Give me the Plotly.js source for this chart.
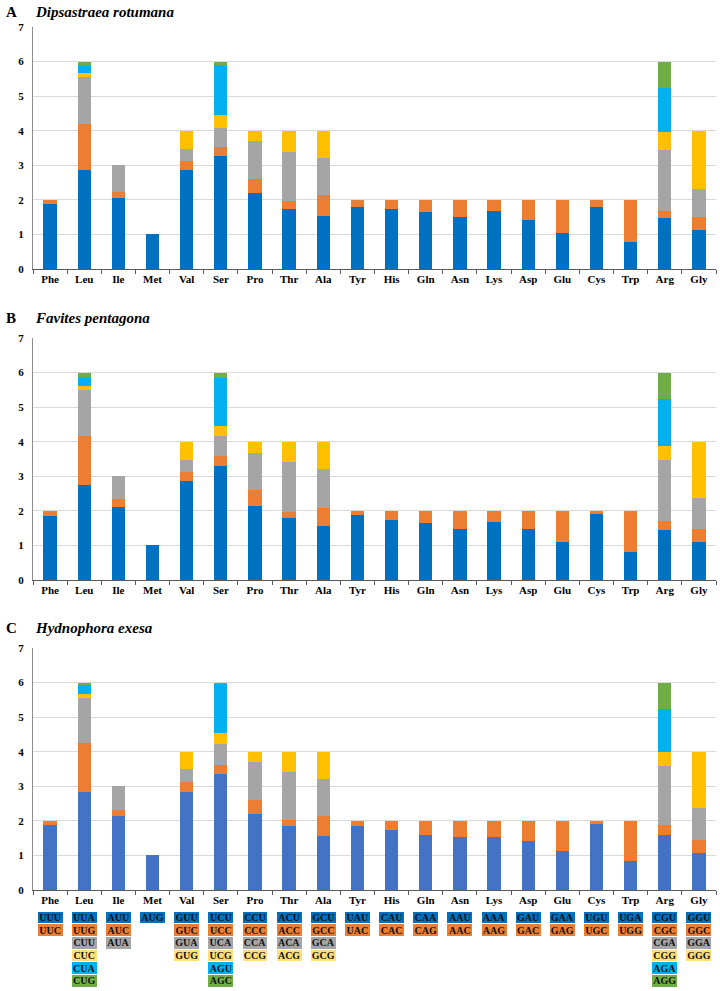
<!DOCTYPE html>
<html>
<head>
<meta charset="utf-8">
<script src="https://cdn.plot.ly/plotly-3.0.1.min.js"></script>
<style>
  html, body { margin: 0; padding: 0; background: #fff; }
  #chart { width: 720px; height: 991px; }
</style>
</head>
<body>
<div id="chart"></div>
<script>
const aminoAcids = ["Phe", "Leu", "Ile", "Met", "Val", "Ser", "Pro", "Thr", "Ala", "Tyr",
                    "His", "Gln", "Asn", "Lys", "Asp", "Glu", "Cys", "Trp", "Arg", "Gly"];

// codons for each synonymous position (1st..6th box under each amino acid)
const codons1 = ["UUU","UUA","AUU","AUG","GUU","UCU","CCU","ACU","GCU","UAU","CAU","CAA","AAU","AAA","GAU","GAA","UGU","UGA","CGU","GGU"];
const codons2 = ["UUC","UUG","AUC","","GUC","UCC","CCC","ACC","GCC","UAC","CAC","CAG","AAC","AAG","GAC","GAG","UGC","UGG","CGC","GGC"];
const codons3 = ["","CUU","AUA","","GUA","UCA","CCA","ACA","GCA","","","","","","","","","","CGA","GGA"];
const codons4 = ["","CUC","","","GUG","UCG","CCG","ACG","GCG","","","","","","","","","","CGG","GGG"];
const codons5 = ["","CUA","","","","AGU","","","","","","","","","","","","","AGA",""];
const codons6 = ["","CUG","","","","AGC","","","","","","","","","","","","","AGG",""];

// RSCU values, one array per codon position
const rotumana = [
  [1.88, 2.87, 2.05, 1, 2.87, 3.28, 2.19, 1.73, 1.54, 1.79, 1.73, 1.66, 1.49, 1.67, 1.43, 1.05, 1.80, 0.77, 1.47, 1.14],
  [0.12, 1.33, 0.19, null, 0.24, 0.24, 0.42, 0.24, 0.59, 0.21, 0.27, 0.34, 0.51, 0.33, 0.57, 0.95, 0.20, 1.23, 0.20, 0.35],
  [null, 1.36, 0.76, null, 0.37, 0.57, 1.10, 1.42, 1.09, null, null, null, null, null, null, null, null, null, 1.76, 0.81],
  [null, 0.12, null, null, 0.52, 0.37, 0.29, 0.61, 0.78, null, null, null, null, null, null, null, null, null, 0.54, 1.70],
  [null, 0.23, null, null, null, 1.43, null, null, null, null, null, null, null, null, null, null, null, null, 1.28, null],
  [null, 0.09, null, null, null, 0.11, null, null, null, null, null, null, null, null, null, null, null, null, 0.75, null]
];
const pentagona = [
  [1.86, 2.74, 2.11, 1, 2.85, 3.30, 2.14, 1.80, 1.55, 1.88, 1.74, 1.64, 1.47, 1.69, 1.47, 1.09, 1.90, 0.82, 1.44, 1.09],
  [0.14, 1.42, 0.24, null, 0.28, 0.28, 0.46, 0.17, 0.54, 0.12, 0.26, 0.36, 0.53, 0.31, 0.53, 0.91, 0.10, 1.18, 0.28, 0.39],
  [null, 1.34, 0.65, null, 0.33, 0.58, 1.08, 1.45, 1.12, null, null, null, null, null, null, null, null, null, 1.74, 0.88],
  [null, 0.10, null, null, 0.54, 0.30, 0.32, 0.58, 0.79, null, null, null, null, null, null, null, null, null, 0.42, 1.64],
  [null, 0.28, null, null, null, 1.38, null, null, null, null, null, null, null, null, null, null, null, null, 1.36, null],
  [null, 0.12, null, null, null, 0.16, null, null, null, null, null, null, null, null, null, null, null, null, 0.76, null]
];
const exesa = [
  [1.88, 2.84, 2.14, 1, 2.84, 3.36, 2.20, 1.85, 1.55, 1.86, 1.74, 1.60, 1.52, 1.52, 1.43, 1.13, 1.92, 0.83, 1.60, 1.06],
  [0.12, 1.40, 0.17, null, 0.28, 0.27, 0.41, 0.18, 0.59, 0.14, 0.26, 0.40, 0.48, 0.48, 0.57, 0.87, 0.08, 1.17, 0.28, 0.40],
  [null, 1.30, 0.69, null, 0.37, 0.58, 1.08, 1.39, 1.07, null, null, null, null, null, null, null, null, null, 1.72, 0.90],
  [null, 0.12, null, null, 0.51, 0.33, 0.31, 0.58, 0.79, null, null, null, null, null, null, null, null, null, 0.40, 1.64],
  [null, 0.28, null, null, null, 1.41, null, null, null, null, null, null, null, null, null, null, null, null, 1.25, null],
  [null, 0.06, null, null, null, 0.05, null, null, null, null, null, null, null, null, null, null, null, null, 0.75, null]
];

const codonRows = [codons1, codons2, codons3, codons4, codons5, codons6];
const colorsAB = ["#0070C0", "#ED7D31", "#A5A5A5", "#FFC000", "#00B0F0", "#70AD47"];
const colorsC  = ["#4472C4", "#ED7D31", "#A5A5A5", "#FFC000", "#00B0F0", "#70AD47"];
const boxColors = ["#0070C0", "#ED7D31", "#A5A5A5", "#FFE07A", "#00B0F0", "#70AD47"];

const serif = "Liberation Serif, Times New Roman, serif";
const data = [];

function addPanel(values, colors, xa, ya) {
  values.forEach((row, i) => {
    data.push({
      type: "bar", x: aminoAcids, y: row, xaxis: xa, yaxis: ya,
      width: 0.39, marker: { color: colors[i] },
      showlegend: false, hoverinfo: "skip"
    });
  });
}
addPanel(rotumana, colorsAB, "x", "y");
addPanel(pentagona, colorsAB, "x2", "y2");
addPanel(exesa, colorsC, "x3", "y3");

// codon boxes under panel C, one unit per codon
codonRows.forEach((row, i) => {
  data.push({
    type: "bar", x: aminoAcids, y: row.map(c => c ? 1 : null), text: row,
    xaxis: "x4", yaxis: "y4", width: 0.76,
    marker: { color: boxColors[i], line: { color: "#fff", width: 1 } },
    textposition: "inside", insidetextanchor: "middle", textangle: 0,
    textfont: { family: serif, size: 10, weight: "bold", color: "#111" },
    showlegend: false, hoverinfo: "skip"
  });
});

const H = 991;
const dom = (top, bottom) => [1 - bottom / H, 1 - top / H];
const tickFont = { family: serif, size: 11, weight: "bold", color: "#000" };

function xAxis(anchor) {
  return {
    domain: [0, 1], anchor: anchor, type: "category",
    showline: true, linecolor: "#595959", linewidth: 1,
    ticks: "outside", tickson: "boundaries", ticklen: 4, tickcolor: "#595959",
    showgrid: false, tickfont: tickFont, fixedrange: true
  };
}
function yAxis(anchor, d) {
  return {
    domain: d, anchor: anchor, range: [0, 7], dtick: 1,
    showline: true, linecolor: "#8c8c8c", linewidth: 1,
    gridcolor: "#d9d9d9", zeroline: false, ticks: "",
    tickfont: tickFont, ticklabelstandoff: 6, fixedrange: true
  };
}

function panelTitle(letter, name, yPx) {
  return [
    { text: "<b>" + letter + "</b>", xref: "paper", yref: "paper", x: -0.043, y: 1 - yPx / H,
      xanchor: "left", yanchor: "middle", showarrow: false,
      font: { family: serif, size: 15, color: "#000" } },
    { text: "<b><i>" + name + "</i></b>", xref: "paper", yref: "paper", x: 0, y: 1 - yPx / H,
      xanchor: "left", yanchor: "middle", showarrow: false,
      font: { family: serif, size: 15, color: "#000" } }
  ];
}

const layout = {
  width: 720, height: 991,
  margin: { l: 33, r: 4, t: 0, b: 0 },
  paper_bgcolor: "#fff", plot_bgcolor: "#fff",
  barmode: "stack",
  showlegend: false,
  uniformtext: { minsize: 10, mode: "show" },
  xaxis: xAxis("y"),
  xaxis2: xAxis("y2"),
  xaxis3: xAxis("y3"),
  xaxis4: { domain: [0, 1], anchor: "y4", matches: "x3", visible: false, fixedrange: true },
  yaxis: yAxis("x", dom(27, 269)),
  yaxis2: yAxis("x2", dom(338, 580)),
  yaxis3: yAxis("x3", dom(648, 890)),
  yaxis4: { domain: dom(911, 987), anchor: "x4", range: [6, 0], visible: false, fixedrange: true },
  annotations: [
    ...panelTitle("A", "Dipsastraea rotumana", 12),
    ...panelTitle("B", "Favites pentagona", 318),
    ...panelTitle("C", "Hydnophora exesa", 628)
  ]
};

Plotly.newPlot("chart", data, layout, { displayModeBar: false, staticPlot: true });
</script>
</body>
</html>
